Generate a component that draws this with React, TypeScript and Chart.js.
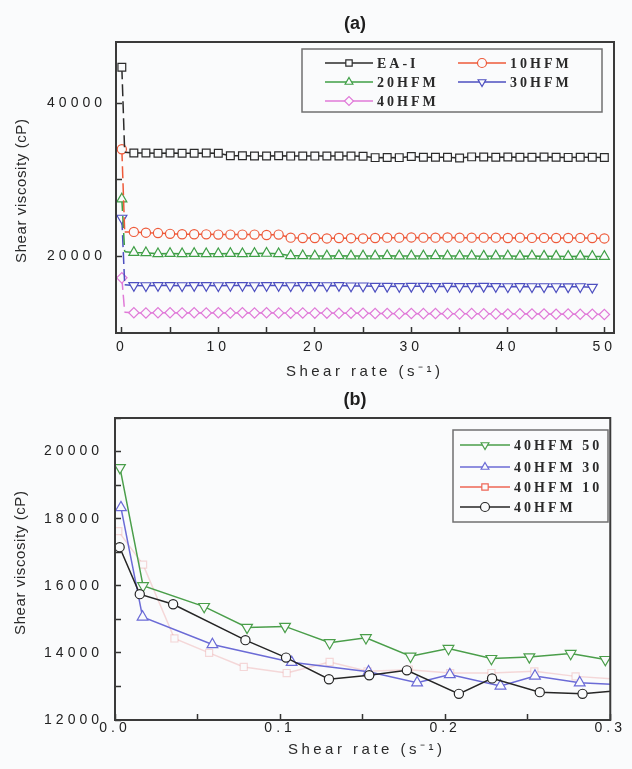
import React, { useEffect, useRef } from 'react';
import { Chart, registerables } from 'chart.js';
import { drawPoint } from 'chart.js/helpers';

Chart.register(...registerables);

const BG = '#fafbfc';
const SANS = '"Liberation Sans", Arial, sans-serif';
const SERIF = '"Liberation Serif", "Times New Roman", serif';

// ---------------- Panel (a) data ----------------
const shearRateA = [
  0.005, 0.3,
  1.25, 2.5, 3.75, 5, 6.25, 7.5, 8.75, 10, 11.25, 12.5, 13.75, 15, 16.25, 17.5, 18.75, 20,
  21.25, 22.5, 23.75, 25, 26.25, 27.5, 28.75, 30, 31.25, 32.5, 33.75, 35, 36.25, 37.5, 38.75, 40,
  41.25, 42.5, 43.75, 45, 46.25, 47.5, 48.75, 50,
];
const eaI = [
  44700, 33600,
  33500, 33500, 33480, 33500, 33480, 33480, 33500, 33480,
  33150, 33150, 33120, 33120, 33150, 33100, 33120, 33100, 33120, 33120, 33100, 33080,
  32900, 32920, 32900,
  33050, 32950, 32950, 32950,
  32850,
  33000, 32980, 32950, 32980, 32950, 32950, 32980, 32950, 32930, 32950, 32950, 32920,
];
const hfm10 = [
  34000, 23200,
  23200, 23100, 23050, 22950, 22900, 22900, 22880, 22850, 22850, 22850, 22850, 22800, 22850,
  22450, 22400, 22400, 22350, 22400, 22380, 22350, 22400, 22450, 22450, 22480, 22450, 22450, 22480,
  22450, 22450, 22450, 22450, 22400, 22450, 22420, 22420, 22400, 22400, 22420, 22400, 22350,
];
const hfm20 = [
  27500, 20600,
  20520, 20480, 20350, 20380, 20350, 20380, 20350, 20350, 20380, 20350, 20380, 20400, 20350,
  20100, 20080, 20050, 20050, 20080, 20050, 20050, 20050, 20080, 20050, 20050, 20050, 20080, 20050,
  20050, 20050, 20030, 20050, 20050, 20030, 20050, 20030, 20030, 20000, 20030, 20000, 20000,
];
const hfm30 = [
  25000, 16300,
  16200, 16180, 16200, 16200, 16180, 16200, 16200, 16180, 16200, 16200, 16180, 16200, 16200, 16180,
  16200, 16200, 16180, 16200, 16150, 16150,
  16100, 16100, 16080, 16100, 16100, 16080, 16100, 16080, 16080, 16100, 16080, 16050, 16080, 16050,
  16050, 16050, 16030, 16050, 15980,
];
const hfm40 = [
  17200, 12700,
  12650, 12620, 12650, 12650, 12620, 12650, 12620, 12650, 12620, 12650, 12620, 12650, 12620, 12600,
  12620, 12600, 12600, 12580, 12600, 12580,
  12550, 12550, 12530, 12550, 12530, 12550, 12530, 12500, 12530, 12500, 12500, 12480, 12500, 12480,
  12480, 12450, 12480, 12450, 12450, 12420,
];
const xTicksA = [0, 5, 10, 15, 20, 25, 30, 35, 40, 45, 50];
const xLabelsA = [0, 10, 20, 30, 40, 50];
const yTicksA = [20000, 30000, 40000];
const yLabelsA = [20000, 40000];

// ---------------- Panel (b) data ----------------
const rateB50 = [0.003, 0.017, 0.054, 0.080, 0.103, 0.130, 0.152, 0.179, 0.202, 0.228, 0.251, 0.276, 0.297];
const viscB50 = [19520, 16000, 15380, 14760, 14790, 14300, 14450, 13900, 14130, 13830, 13880, 13980, 13800];
const rateB30 = [0.0036, 0.0167, 0.059, 0.107, 0.1536, 0.183, 0.2028, 0.2335, 0.2544, 0.2815, 0.31];
const viscB30 = [18330, 15070, 14250, 13720, 13440, 13110, 13355, 13015, 13313, 13110, 13040];
const rateB10 = [0.002, 0.017, 0.036, 0.057, 0.078, 0.104, 0.13, 0.153, 0.178, 0.203, 0.228, 0.254, 0.279, 0.31];
const viscB10 = [17630, 16630, 14430, 14000, 13580, 13400, 13730, 13450, 13500, 13400, 13400, 13450, 13300, 13200];
const rateB0 = [0.0028, 0.015, 0.0352, 0.079, 0.1036, 0.1296, 0.154, 0.1768, 0.2083, 0.2284, 0.2573, 0.2832, 0.31];
const viscB0 = [17150, 15750, 15450, 14380, 13860, 13215, 13335, 13480, 12780, 13240, 12830, 12780, 12900];
const xTicksB = [0, 0.05, 0.1, 0.15, 0.2, 0.25, 0.3];
const xLabelsB = [0, 0.1, 0.2, 0.3];
const yTicksB = [12000, 13000, 14000, 15000, 16000, 17000, 18000, 19000, 20000, 21000];
const yLabelsB = [12000, 14000, 16000, 18000, 20000];

const pairs = (xs: number[], ys: number[]) => ys.map((y, i) => ({ x: xs[i], y }));
const has = (list: number[], v: number) => list.some((l) => Math.abs(l - v) < 1e-9);

const decorPlugin = {
  id: 'decor',
  beforeLayout(chart: any) {
    chart.ctx.letterSpacing = '4px';
  },
  beforeDraw(chart: any) {
    const ctx = chart.ctx;
    ctx.save();
    ctx.fillStyle = BG;
    ctx.fillRect(0, 0, chart.width, chart.height);
    ctx.restore();
    ctx.letterSpacing = '4px';
  },
  afterDraw(chart: any, _args: any, o: any) {
    const ctx = chart.ctx;
    const a = chart.chartArea;
    ctx.save();
    ctx.letterSpacing = '0px';
    // frame
    ctx.strokeStyle = '#3a3a3a';
    ctx.lineWidth = 2;
    ctx.strokeRect(a.left, a.top, a.right - a.left, a.bottom - a.top);
    // panel title
    ctx.fillStyle = '#1e1e1e';
    ctx.font = `bold 18px ${SANS}`;
    ctx.textAlign = 'center';
    ctx.textBaseline = 'middle';
    ctx.fillText(o.title.text, o.title.x, o.title.y);
    // x title
    ctx.font = `15px ${SANS}`;
    ctx.fillStyle = '#2a2a2a';
    ctx.letterSpacing = '3.5px';
    ctx.fillText(o.xTitle.text, o.xTitle.x + 1.75, o.xTitle.y);
    // y title
    ctx.letterSpacing = '0.6px';
    ctx.save();
    ctx.translate(o.yTitle.x, o.yTitle.y);
    ctx.rotate(-Math.PI / 2);
    ctx.fillText(o.yTitle.text, 0.3, 0);
    ctx.restore();
    // legend
    const L = o.legend;
    ctx.lineWidth = 1.5;
    ctx.strokeStyle = '#707070';
    ctx.strokeRect(L.box[0], L.box[1], L.box[2] - L.box[0], L.box[3] - L.box[1]);
    ctx.font = `bold 14px ${SERIF}`;
    ctx.letterSpacing = '3px';
    ctx.textAlign = 'left';
    chart.data.datasets.forEach((ds: any, i: number) => {
      const p = L.entries[i];
      if (!p) return;
      const col = ds.legendColor || ds.borderColor;
      ctx.strokeStyle = col;
      ctx.lineWidth = 1.5;
      ctx.beginPath();
      ctx.moveTo(p[0], p[1]);
      ctx.lineTo(p[0] + L.lineLen, p[1]);
      ctx.stroke();
      ctx.fillStyle = BG;
      ctx.lineWidth = 1.2;
      drawPoint(
        ctx,
        { pointStyle: ds.pointStyle, rotation: ds.pointRotation || 0, radius: L.markR, borderWidth: 1.2 } as any,
        p[0] + L.lineLen / 2,
        p[1]
      );
      ctx.fillStyle = '#2a2a2a';
      ctx.fillText(ds.label, p[0] + L.lineLen + 4, p[1] + 1);
    });
    ctx.restore();
  },
};

function axisCommon(pad: number) {
  return {
    type: 'linear' as const,
    grid: { drawOnChartArea: false, drawTicks: true, tickLength: -6, tickColor: '#333', tickWidth: 1.5 },
    border: { display: false },
    ticks: {
      font: { size: 14, family: SANS },
      color: '#222',
      padding: pad,
      autoSkip: false,
      maxRotation: 0,
    },
  };
}

function ChartA() {
  const ref = useRef<HTMLCanvasElement>(null);
  useEffect(() => {
    const mk = (label: string, vals: number[], color: string, style: string, r: number, rot = 0) => ({
      label,
      data: pairs(shearRateA, vals),
      borderColor: color,
      backgroundColor: BG,
      pointBackgroundColor: BG,
      pointBorderColor: color,
      pointStyle: style,
      pointRotation: rot,
      pointRadius: (c: any) => (c.dataIndex === 1 ? 0 : r),
      pointBorderWidth: 1.2,
      borderWidth: 1.5,
      tension: 0,
      segment: { borderDash: (c: any) => (c.p0DataIndex === 0 ? [12, 5] : undefined) },
    });
    const chart = new Chart(ref.current!, {
      type: 'line',
      data: {
        datasets: [
          mk('EA-I', eaI, '#2b2b2b', 'rect', 5.5),
          mk('10HFM', hfm10, '#ee5a3a', 'circle', 4.6),
          mk('20HFM', hfm20, '#3f9f46', 'triangle', 5.8),
          mk('30HFM', hfm30, '#4d4fc0', 'triangle', 5.8, 180),
          mk('40HFM', hfm40, '#e07ad8', 'rectRot', 5.2),
        ] as any,
      },
      options: {
        responsive: false,
        animation: false,
        layout: { padding: { left: 0, right: 18, top: 42, bottom: 0 } },
        scales: {
          x: {
            ...axisCommon(12),
            min: -0.6,
            max: 51,
            afterBuildTicks: (s: any) => { s.ticks = xTicksA.map((v) => ({ value: v })); },
            afterFit: (s: any) => { s.height = 52; },
            ticks: { ...axisCommon(12).ticks, callback: (v: any) => (has(xLabelsA, v) ? String(v) : '') },
          },
          y: {
            ...axisCommon(16),
            min: 10000,
            max: 48000,
            afterBuildTicks: (s: any) => { s.ticks = yTicksA.map((v) => ({ value: v })); },
            afterFit: (s: any) => { s.width = 116; },
            ticks: { ...axisCommon(16).ticks, callback: (v: any) => (has(yLabelsA, v) ? String(v) : '') },
          },
        },
        plugins: {
          legend: { display: false },
          tooltip: { enabled: false },
          decor: {
            title: { text: '(a)', x: 355, y: 24 },
            xTitle: { text: 'Shear rate (s⁻¹)', x: 363, y: 372 },
            yTitle: { text: 'Shear viscosity (cP)', x: 22, y: 191 },
            legend: {
              box: [302, 49, 602, 112],
              lineLen: 48,
              markR: 4.5,
              entries: [[325, 63], [458, 63], [325, 82], [458, 82], [325, 101]],
            },
          },
        } as any,
      },
      plugins: [decorPlugin as any],
    });
    return () => chart.destroy();
  }, []);
  return <canvas ref={ref} width={632} height={385} style={{ position: 'absolute', left: 0, top: 0, display: 'block' }} />;
}

function ChartB() {
  const ref = useRef<HTMLCanvasElement>(null);
  useEffect(() => {
    const mk = (label: string, xs: number[], ys: number[], color: string, style: string, r: number, order: number, rot = 0, legendColor?: string) => ({
      label,
      data: pairs(xs, ys),
      borderColor: color,
      backgroundColor: BG,
      pointBackgroundColor: BG,
      pointBorderColor: color,
      pointStyle: style,
      pointRotation: rot,
      pointRadius: r,
      pointBorderWidth: 1.2,
      borderWidth: 1.5,
      tension: 0,
      clip: 0,
      order,
      legendColor,
    });
    const chart = new Chart(ref.current!, {
      type: 'line',
      data: {
        datasets: [
          mk('40HFM 50', rateB50, viscB50, '#4a9e4a', 'triangle', 6.2, 2, 180),
          mk('40HFM 30', rateB30, viscB30, '#6b6bd6', 'triangle', 6.2, 1),
          mk('40HFM 10', rateB10, viscB10, 'rgba(232,140,140,0.32)', 'rect', 5, 3, 0, '#ee6655'),
          mk('40HFM', rateB0, viscB0, '#262626', 'circle', 4.6, 0),
        ] as any,
      },
      options: {
        responsive: false,
        animation: false,
        layout: { padding: { left: 0, right: 13, top: 33, bottom: 0 } },
        scales: {
          x: {
            ...axisCommon(6),
            min: 0,
            max: 0.3,
            afterBuildTicks: (s: any) => { s.ticks = xTicksB.map((v) => ({ value: v })); },
            afterFit: (s: any) => { s.height = 49; },
            ticks: { ...axisCommon(6).ticks, callback: (v: any) => (has(xLabelsB, v) ? Number(v).toFixed(1) : '') },
          },
          y: {
            ...axisCommon(18),
            min: 12000,
            max: 21000,
            afterBuildTicks: (s: any) => { s.ticks = yTicksB.map((v) => ({ value: v })); },
            afterFit: (s: any) => { s.width = 115; },
            ticks: { ...axisCommon(18).ticks, callback: (v: any) => (has(yLabelsB, v) ? String(v) : '') },
          },
        },
        plugins: {
          legend: { display: false },
          tooltip: { enabled: false },
          decor: {
            title: { text: '(b)', x: 355, y: 15 },
            xTitle: { text: 'Shear rate (s⁻¹)', x: 365, y: 365 },
            yTitle: { text: 'Shear viscosity (cP)', x: 21, y: 178 },
            legend: {
              box: [453, 45, 608, 137],
              lineLen: 50,
              markR: 4.5,
              entries: [[460, 60], [460, 82], [460, 102], [460, 122]],
            },
          },
        } as any,
      },
      plugins: [decorPlugin as any],
    });
    return () => chart.destroy();
  }, []);
  return <canvas ref={ref} width={632} height={384} style={{ position: 'absolute', left: 0, top: 385, display: 'block' }} />;
}

export default function App() {
  return (
    <div style={{ position: 'absolute', left: 0, top: 0, width: 632, height: 769, background: BG, overflow: 'hidden' }}>
      <ChartA />
      <ChartB />
    </div>
  );
}
